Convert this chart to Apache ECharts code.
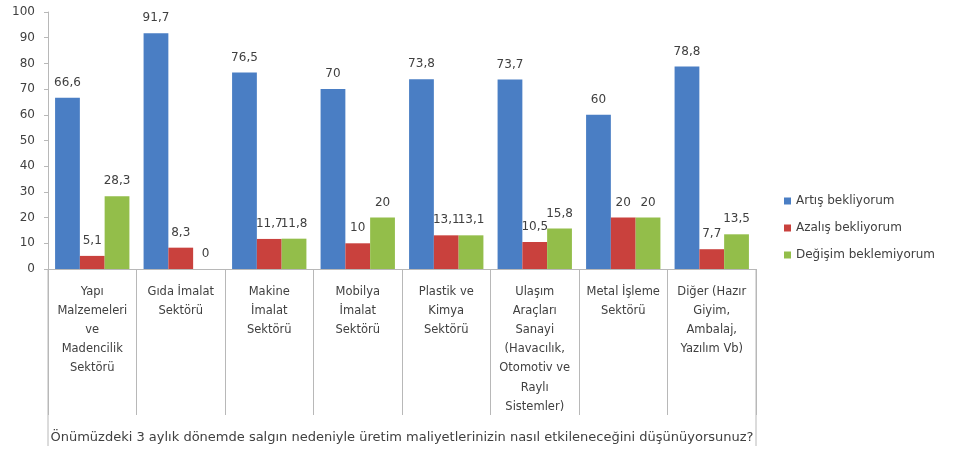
<!DOCTYPE html>
<html>
<head>
<meta charset="utf-8">
<script src="https://cdn.jsdelivr.net/npm/echarts@6/dist/echarts.min.js"></script>
<style>
  html, body { margin: 0; padding: 0; background: #fff; }
  #chart { width: 960px; height: 450px; }
</style>
</head>
<body>
<div id="chart"></div>
<script>
// kategoriler (sektörler)
const sectors = [
  'Yapı\nMalzemeleri\nve\nMadencilik\nSektörü',
  'Gıda İmalat\nSektörü',
  'Makine\nİmalat\nSektörü',
  'Mobilya\nİmalat\nSektörü',
  'Plastik ve\nKimya\nSektörü',
  'Ulaşım\nAraçları\nSanayi\n(Havacılık,\nOtomotiv ve\nRaylı\nSistemler)',
  'Metal İşleme\nSektörü',
  'Diğer (Hazır\nGiyim,\nAmbalaj,\nYazılım Vb)'
]
const seriesNames = ['Artış bekliyorum', 'Azalış bekliyorum', 'Değişim beklemiyorum']
const artis = [66.6, 91.7, 76.5, 70, 73.8, 73.7, 60, 78.8]
const azalis = [5.1, 8.3, 11.7, 10, 13.1, 10.5, 20, 7.7]
const degisim = [28.3, 0, 11.8, 20, 13.1, 15.8, 20, 13.5]
const axisTitle = 'Önümüzdeki 3 aylık dönemde salgın nedeniyle üretim maliyetlerinizin nasıl etkileneceğini düşünüyorsunuz?'

const colors = ['#4A7EC4', '#C9413D', '#93BE4A']
const textColor = '#404040'
const lineColor = '#b8b8b8'
const font = 'DejaVu Sans'

const chart = echarts.init(document.getElementById('chart'))

// değerleri virgüllü göster (66,6)
const labelOpt = {
  show: true,
  position: 'top',
  distance: 9,
  color: textColor,
  fontFamily: font,
  fontSize: 12,
  formatter: p => String(p.value).replace('.', ',')
}

function makeSeries(name, data, i) {
  return {
    name: name,
    type: 'bar',
    data: data,
    barGap: '0%',
    barCategoryGap: '16%',
    itemStyle: { color: colors[i] },
    label: labelOpt,
    animation: false
  }
}

const option = {
  backgroundColor: '#fff',
  textStyle: { fontFamily: font },
  grid: { left: 48, right: 204, top: 12, bottom: 181 },
  legend: {
    orient: 'vertical',
    left: 779,
    top: 190,
    itemWidth: 7,
    itemHeight: 7,
    itemGap: 15,
    icon: 'rect',
    textStyle: { color: textColor, fontSize: 12, fontFamily: font },
    data: seriesNames
  },
  xAxis: {
    type: 'category',
    data: sectors,
    name: axisTitle,
    nameLocation: 'middle',
    nameGap: 162,
    nameTextStyle: { color: textColor, fontSize: 13, fontFamily: font },
    axisLine: { lineStyle: { color: lineColor } },
    axisTick: { show: true, interval: 0, length: 146, lineStyle: { color: lineColor } },
    axisLabel: {
      interval: 0,
      color: textColor,
      fontSize: 11.5,
      fontFamily: font,
      lineHeight: 19.2,
      margin: 13,
      align: 'center',
      verticalAlign: 'top'
    }
  },
  yAxis: {
    type: 'value',
    min: 0,
    max: 100,
    interval: 10,
    axisLine: { show: true, lineStyle: { color: lineColor } },
    axisTick: { show: true, length: 4, lineStyle: { color: lineColor } },
    splitLine: { show: false },
    axisLabel: { color: textColor, fontSize: 12, fontFamily: font, margin: 13 }
  },
  // tablo kenar çizgileri
  graphic: [
    { type: 'line', shape: { x1: 48, y1: 269, x2: 48, y2: 446 }, style: { stroke: lineColor, lineWidth: 1 } },
    { type: 'line', shape: { x1: 756, y1: 269, x2: 756, y2: 446 }, style: { stroke: lineColor, lineWidth: 1 } }
  ],
  series: [
    makeSeries(seriesNames[0], artis, 0),
    makeSeries(seriesNames[1], azalis, 1),
    makeSeries(seriesNames[2], degisim, 2)
  ]
}

chart.setOption(option)
</script>
</body>
</html>
